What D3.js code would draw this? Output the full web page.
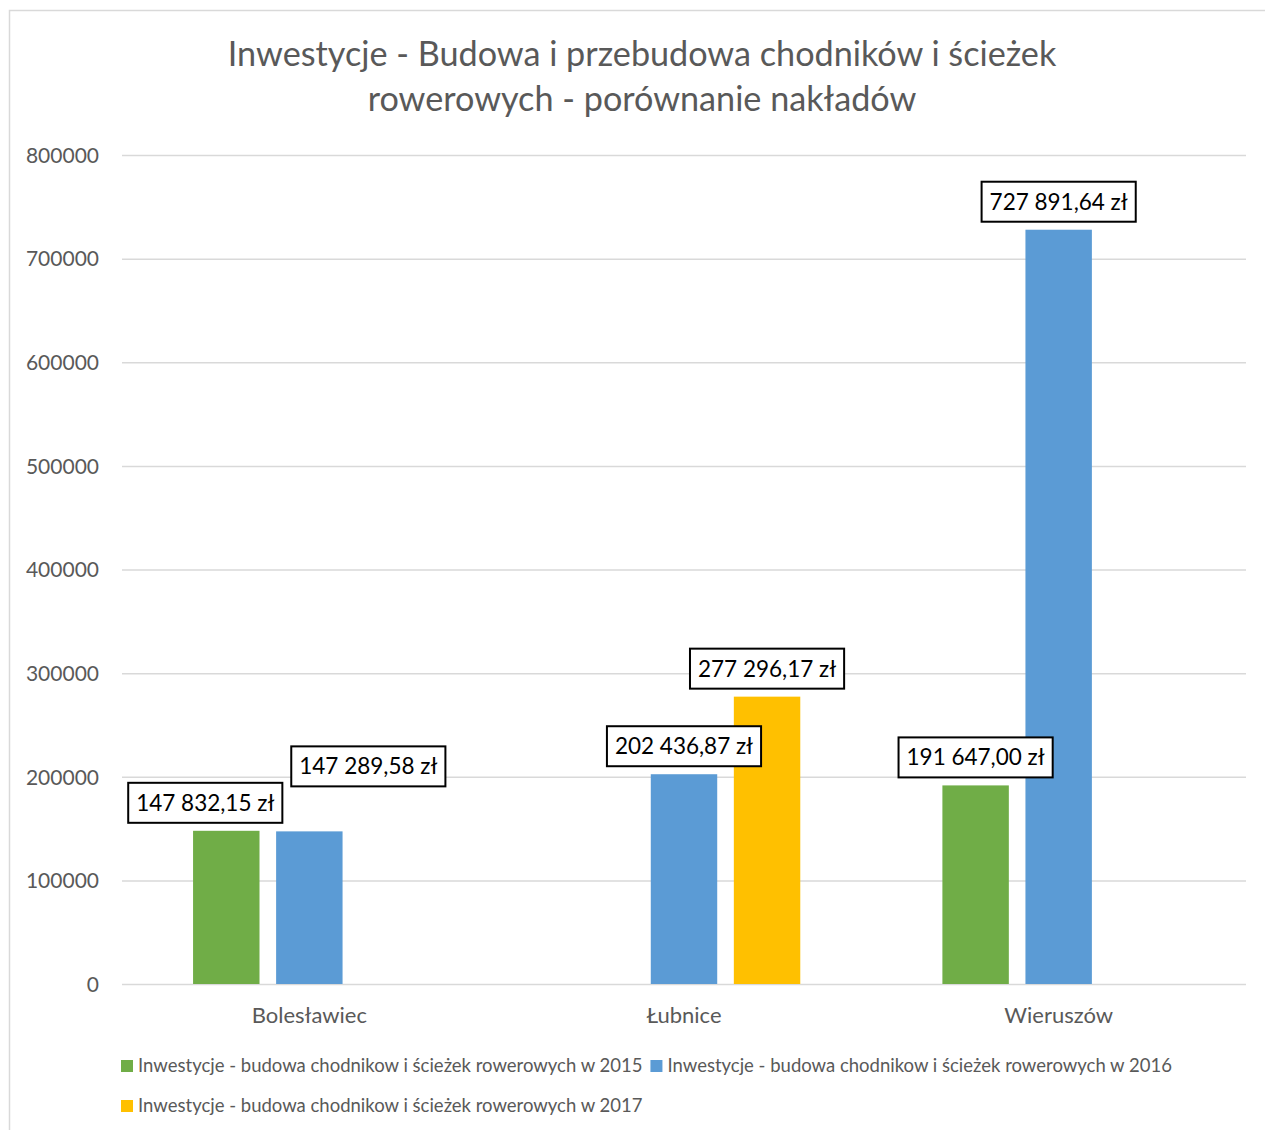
<!DOCTYPE html>
<html>
<head>
<meta charset="utf-8">
<script src="https://cdn.jsdelivr.net/npm/d3@7"></script>
<style>
  html, body { margin: 0; padding: 0; background: #fff; }
  svg text { font-family: Lato, "Open Sans", sans-serif; }
</style>
</head>
<body>
<svg id="chart" width="1265" height="1130"></svg>
<script>
// ---- Data ----
const titleLines = ["Inwestycje - Budowa i przebudowa chodników i ścieżek", "rowerowych - porównanie nakładów"];
const categories = ["Bolesławiec", "Łubnice", "Wieruszów"];
const seriesNames = [
  "Inwestycje - budowa chodnikow i ścieżek rowerowych w 2015",
  "Inwestycje - budowa chodnikow i ścieżek rowerowych w 2016",
  "Inwestycje - budowa chodnikow i ścieżek rowerowych w 2017"
];
const values2015 = [147832.15, null, 191647.00];
const values2016 = [147289.58, 202436.87, 727891.64];
const values2017 = [null, 277296.17, null];
const yTicks = [0, 100000, 200000, 300000, 400000, 500000, 600000, 700000, 800000];

const seriesValues = [values2015, values2016, values2017];
const colors = ["#70AD47", "#5B9BD5", "#FFC000"];

// ---- Layout ----
const plot = { left: 122, right: 1246, top: 155, bottom: 984 };
const svg = d3.select("#chart");

// chart border
svg.append("rect").attr("x", 9.5).attr("y", 10.5).attr("width", 1300).attr("height", 1200)
  .attr("fill", "none").attr("stroke", "#D9D9D9").attr("stroke-width", 1.5);

// title
svg.append("g").selectAll("text").data(titleLines).join("text")
  .attr("x", 642).attr("y", (d, i) => 66 + i * 45)
  .attr("text-anchor", "middle").attr("fill", "#595959")
  .attr("font-size", 34.2).text(d => d);

const y = d3.scaleLinear().domain([0, 800000]).range([plot.bottom, plot.top]);
const x0 = d3.scaleBand().domain(categories).range([plot.left, plot.right])
  .paddingInner(0.335).paddingOuter(0.1675);
const x1 = d3.scaleBand().domain(d3.range(seriesNames.length)).range([0, x0.bandwidth()])
  .paddingInner(0.2).paddingOuter(0.1);

// gridlines + y axis
const yAxis = d3.axisLeft(y).tickValues(yTicks).tickSize(-(plot.right - plot.left)).tickPadding(23)
  .tickFormat(d3.format("d"));
const gy = svg.append("g").attr("transform", `translate(${plot.left},0)`).call(yAxis);
gy.select(".domain").remove();
gy.selectAll(".tick line").attr("stroke", "#D9D9D9").attr("stroke-width", 1.5);
gy.selectAll(".tick text").attr("fill", "#595959").attr("font-size", 21)
  .attr("font-family", "Lato, sans-serif").attr("dy", "0.35em");

// x axis labels
const xAxis = d3.axisBottom(x0).tickSize(0).tickPadding(23);
const gx = svg.append("g").attr("transform", `translate(0,${plot.bottom})`).call(xAxis);
gx.select(".domain").remove();
gx.selectAll(".tick text").attr("fill", "#595959").attr("font-size", 22)
  .attr("font-family", "Lato, sans-serif");

// bars
const barData = [];
categories.forEach((c, ci) => {
  seriesValues.forEach((vals, si) => {
    if (vals[ci] != null) barData.push({ cat: c, ci, si, v: vals[ci] });
  });
});

svg.append("g").selectAll("rect").data(barData).join("rect")
  .attr("x", d => x0(d.cat) + x1(d.si))
  .attr("y", d => y(d.v))
  .attr("width", x1.bandwidth())
  .attr("height", d => y(0) - y(d.v))
  .attr("fill", d => colors[d.si]);

// data labels
const plLocale = d3.formatLocale({ decimal: ",", thousands: " ", grouping: [3], currency: ["", " zł"] });
const fmt = plLocale.format("$,.2f");
// manual label nudges (as in the reference, to avoid overlap)
const labelShift = { "0-0": [-21, 0], "0-1": [59, -37] };

const lg = svg.append("g");
barData.forEach(d => {
  const sh = labelShift[d.ci + "-" + d.si] || [0, 0];
  const cx = x0(d.cat) + x1(d.si) + x1.bandwidth() / 2 + sh[0];
  const bottom = y(d.v) - 8 + sh[1];
  const g = lg.append("g");
  const t = g.append("text").attr("x", cx).attr("y", bottom - 12)
    .attr("text-anchor", "middle").attr("fill", "#000").attr("font-size", 22.5)
    .text(fmt(d.v));
  const w = t.node().getComputedTextLength();
  const bw = w + 16, bh = 40;
  g.insert("rect", "text").attr("x", cx - bw / 2).attr("y", bottom - bh)
    .attr("width", bw).attr("height", bh)
    .attr("fill", "#fff").attr("stroke", "#000").attr("stroke-width", 2);
});

// legend
const legend = svg.append("g");
let lx = 121, ly = 1066;
const rowH = 40;
seriesNames.forEach((name, i) => {
  const g = legend.append("g");
  const t = g.append("text").attr("x", lx + 17).attr("y", ly).attr("dy", "0.35em")
    .attr("fill", "#595959").attr("font-size", 18.5).text(name);
  const w = t.node().getComputedTextLength();
  if (lx + 17 + w > plot.right && lx > 121) {
    lx = 121; ly += rowH;
    t.attr("x", lx + 17).attr("y", ly);
  }
  g.append("rect").attr("x", lx).attr("y", ly - 6).attr("width", 12).attr("height", 12)
    .attr("fill", colors[i]);
  lx += 17 + w + 8;
});
</script>
</body>
</html>
